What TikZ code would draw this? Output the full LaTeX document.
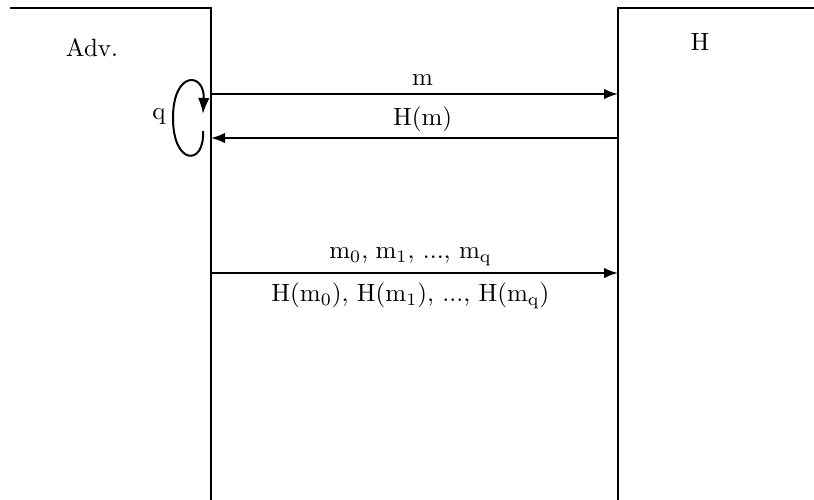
\documentclass[tikz,border=0pt]{standalone}
\usetikzlibrary{arrows.meta}
\begin{document}
\begin{tikzpicture}[x=0.4pt,y=-0.4pt,
  wall/.style={line width=0.8pt},
  msg/.style={line width=0.8pt,-{Latex[length=5.6pt,width=4.2pt]}},
  lbl/.style={inner sep=0pt,font=\fontsize{10}{12}\selectfont}]
\useasboundingbox (0,0) rectangle (814,500);
% party boundaries
\coordinate (advTop) at (10,8);
\coordinate (advCorner) at (211,8);
\coordinate (advBot) at (211,500);
\coordinate (hTop) at (814,8);
\coordinate (hCorner) at (618,8);
\coordinate (hBot) at (618,500);
\draw[wall] (advTop) -- (advCorner) -- (advBot);
\draw[wall] (hTop) -- (hCorner) -- (hBot);
\node[lbl] (adv) at (92,48) {Adv.};
\node[lbl] (h) at (700,42) {H};
% endpoints
\coordinate (a1) at (211,94);
\coordinate (h1) at (618,94);
\coordinate (a2) at (211,138);
\coordinate (h2) at (618,138);
\coordinate (a3) at (211,273);
\coordinate (h3) at (618,273);
\draw[msg] (a1) -- node[lbl,pos=0.52,above=2.8pt] (lm) {m} (h1);
\draw[msg] (h2) -- node[lbl,pos=0.48,above=2.2pt] (lhm) {H(m)} (a2);
\draw[msg] (a3) -- node[lbl,pos=0.49,above=2.5pt] (lms) {m$_0$,\kern-0.4pt{} m$_1$, ..., m$_{\mathrm{q}}$}
  node[lbl,pos=0.49,below=3.5pt] (lhs) {H(m$_0$), H(m$_1$), ..., H(m$_{\mathrm{q}}$)} (h3);
% loop
\coordinate (ls) at (203,131);
\coordinate (le) at (203,114);
\draw[line width=0.8pt,-{Latex[length=6.4pt,width=4.6pt]}] (ls) .. controls (205,166) and (173,166) .. (173,118)
  .. controls (173,70) and (205,72) .. (le);
\node[lbl] (q) at (159,116) {q};
\end{tikzpicture}
\end{document}
